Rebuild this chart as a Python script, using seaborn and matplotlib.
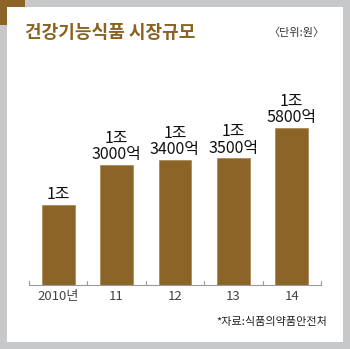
import matplotlib
matplotlib.use("Agg")
import matplotlib.pyplot as plt
import seaborn as sns
import pandas as pd
from matplotlib.patches import Rectangle

years = ["2010년", "11", "12", "13", "14"]
values = [10000, 13000, 13400, 13500, 15800]  # 억원
labels = ["1조", "1조\n3000억", "1조\n3400억", "1조\n3500억", "1조\n5800억"]
title = "건강기능식품 시장규모"
unit = "〈단위:원〉"
source = "*자료:식품의약품안전처"

sns.set_theme(style="white")
plt.rcParams['font.family'] = ['Liberation Sans Narrow', 'Noto Sans CJK KR', 'DejaVu Sans']

W, H = 350, 349
fig = plt.figure(figsize=(W / 100, H / 100), dpi=100)
fig.patch.set_facecolor("#c7c8ca")

def fx(px):
    return px / W

def fy(py):
    return 1 - py / H

# white panel
fig.patches.append(Rectangle((fx(7), fy(342)), fx(336), (335) / H, transform=fig.transFigure,
                             facecolor="white", edgecolor="none", zorder=-2))
# brown corner accent
brown = "#8c6428"
fig.patches.append(Rectangle((0, fy(7)), fx(25), 7 / H, transform=fig.transFigure,
                             facecolor=brown, edgecolor="none", zorder=-1))
fig.patches.append(Rectangle((0, fy(25)), fx(7), 25 / H, transform=fig.transFigure,
                             facecolor=brown, edgecolor="none", zorder=-1))

ax = fig.add_axes([fx(29), fy(285), fx(321 - 29), (285 - 60) / H])
ax.set_zorder(2)
ax.set_facecolor("none")
df = pd.DataFrame({"year": years, "value": values})
sns.barplot(data=df, x="year", y="value", color=brown, width=0.56, ax=ax,
            saturation=1, edgecolor="#a07a3c", linewidth=0.4)
ax.set_ylim(4000, 20886)
ax.set_xlim(-0.5, 4.5)
ax.set_xlabel("")
ax.set_ylabel("")
ax.set_yticks([])
for s in ["top", "right", "left"]:
    ax.spines[s].set_visible(False)
ax.spines["bottom"].set_color("#9a9a9a")
ax.spines["bottom"].set_linewidth(0.8)
ax.set_xticks([])
# tick marks at category boundaries
for b in [-0.5, 0.5, 1.5, 2.5, 3.5, 4.5]:
    ax.plot([b, b], [4000, 4000 + 4 * (20886 - 4000) / 225], color="#9a9a9a", lw=0.8,
            clip_on=False)
for i, y in enumerate(years):
    ax.text(i, 4000 - 11.5 * (20886 - 4000) / 225, y, ha="center", va="center",
            fontsize=9.5, color="#444444")

for i, (v, lab) in enumerate(zip(values, labels)):
    ax.text(i, v + 120, lab, ha="center", va="bottom", fontsize=11.5, color="#111111",
            linespacing=0.95)

fig.text(fx(25), fy(33), title, ha="left", va="center", fontsize=13, fontweight="bold",
         color="#8a6222", family=['Noto Sans CJK KR'])
fig.text(fx(325), fy(33), unit, ha="right", va="center", fontsize=8, color="#333333",
         family=['Noto Sans CJK KR'])
fig.text(fx(327), fy(322), source, ha="right", va="center", fontsize=8, color="#222222",
         family=['Noto Sans CJK KR'])

fig.savefig("out.png", dpi=100)
